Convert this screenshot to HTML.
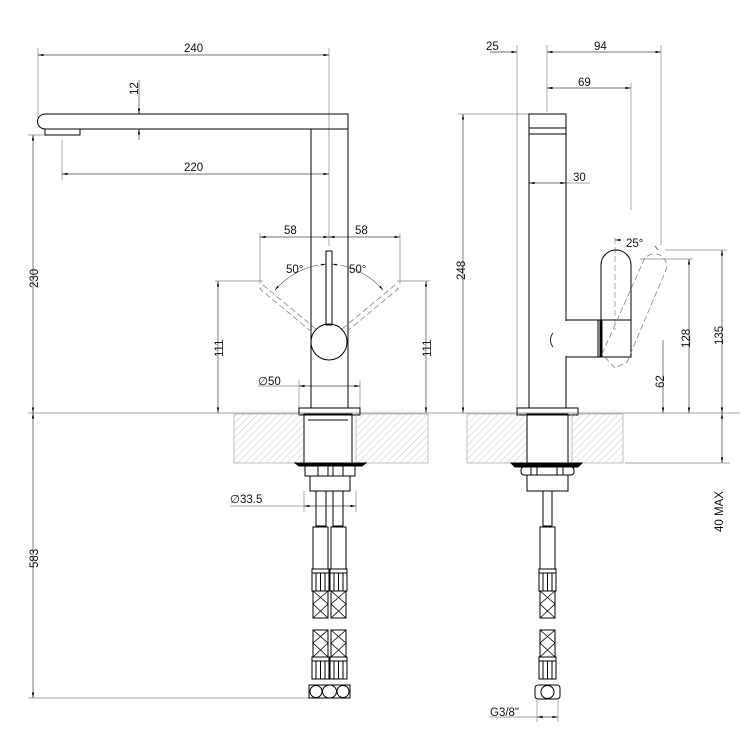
<!DOCTYPE html>
<html><head><meta charset="utf-8"><style>
html,body{margin:0;padding:0;background:#fff}
svg{display:block}
text{font-family:"Liberation Sans",sans-serif;font-size:11.5px;fill:#111}
</style></head><body>
<svg width="750" height="750" viewBox="0 0 750 750" xmlns="http://www.w3.org/2000/svg">
<defs>
<pattern id="h" width="5" height="5" patternUnits="userSpaceOnUse" patternTransform="rotate(45)">
<line x1="0" y1="0" x2="0" y2="5" stroke="#bbb" stroke-width="0.8"/></pattern>
<marker id="a" viewBox="0 0 10 6" refX="10" refY="3" markerWidth="8" markerHeight="5" orient="auto-start-reverse"><path d="M0,1 L10,3 L0,5z" fill="#000"/></marker>
<g id="hoseTop">
<rect x="0" y="0" width="15" height="42" fill="none" stroke="#000"/>
<rect x="-1" y="42" width="17" height="4" fill="none" stroke="#000"/>
<rect x="-1" y="46" width="17" height="18" fill="none" stroke="#000"/>
<line x1="3" y1="46" x2="3" y2="64" stroke="#000"/><line x1="7.5" y1="46" x2="7.5" y2="64" stroke="#000"/><line x1="12" y1="46" x2="12" y2="64" stroke="#000"/>
<rect x="0" y="64" width="15" height="27" fill="none" stroke="#000"/>
<path d="M0,64 L15,77 L0,91 M15,64 L0,77 L15,91" fill="none" stroke="#000" stroke-width="0.8"/>
</g>
<g id="hoseBot">
<rect x="0" y="0" width="15" height="27" fill="none" stroke="#000"/>
<path d="M0,0 L15,13 L0,27 M15,0 L0,13 L15,27" fill="none" stroke="#000" stroke-width="0.8"/>
<rect x="-1" y="27" width="17" height="4" fill="none" stroke="#000"/>
<rect x="-1" y="31" width="17" height="18" fill="none" stroke="#000"/>
<line x1="3" y1="31" x2="3" y2="49" stroke="#000"/><line x1="7.5" y1="31" x2="7.5" y2="49" stroke="#000"/><line x1="12" y1="31" x2="12" y2="49" stroke="#000"/>
</g>
</defs>
<g fill="none" stroke="#000" stroke-width="1">
<!-- LEFT VIEW -->
<g stroke="#888" stroke-width="0.7">
<line x1="38" y1="48" x2="38" y2="118"/><line x1="329" y1="48" x2="329" y2="246"/>
<line x1="62" y1="140" x2="62" y2="180"/>
<line x1="28" y1="135" x2="45" y2="135"/><line x1="28" y1="413" x2="740" y2="413"/>
<line x1="28" y1="698" x2="312" y2="698"/>
<line x1="260" y1="233" x2="260" y2="284"/><line x1="400" y1="233" x2="400" y2="284"/>
<line x1="215" y1="281" x2="263" y2="281"/><line x1="397" y1="281" x2="430" y2="281"/>
<line x1="299" y1="380" x2="299" y2="408"/><line x1="360" y1="380" x2="360" y2="408"/>
<line x1="304" y1="491" x2="304" y2="512"/><line x1="356" y1="491" x2="356" y2="512"/>
<line x1="230" y1="506" x2="304" y2="506"/><line x1="258" y1="386" x2="299" y2="386"/>
</g>
<g stroke="#444" stroke-width="0.7" marker-start="url(#a)" marker-end="url(#a)">
<line x1="38" y1="55" x2="329" y2="55"/>
<line x1="62" y1="174" x2="329" y2="174"/>
<line x1="33" y1="135" x2="33" y2="413"/>
<line x1="33" y1="413" x2="33" y2="698"/>
<line x1="260" y1="237" x2="329" y2="237"/><line x1="329" y1="237" x2="400" y2="237"/>
<line x1="218" y1="281" x2="218" y2="413"/><line x1="426" y1="281" x2="426" y2="413"/>
<line x1="299" y1="386" x2="360" y2="386"/>
<line x1="304" y1="506" x2="356" y2="506"/>
</g>
<g stroke="#444" stroke-width="0.7"><line x1="139" y1="80" x2="139" y2="114" marker-end="url(#a)"/><line x1="139" y1="140" x2="139" y2="129" marker-end="url(#a)"/></g>
<path d="M45,114 L348,114 L348,129 L45,129 A7.5,7.5 0 0 1 45,114z"/>
<rect x="45" y="129" width="35" height="6"/>
<path d="M311,129 L311,408 M348,129 L348,408"/>
<rect x="326" y="251" width="6" height="74"/>
<circle cx="329" cy="342" r="18"/>
<g stroke="#777" stroke-width="0.7" stroke-dasharray="6,3">
<path d="M316,329 L263,285 L260,289 L313,333"/>
<path d="M342,329 L395,285 L398,289 L345,333"/>
</g>
<path d="M275,290 A78,78 0 0 1 318,265" stroke="#444" stroke-width="0.6" marker-start="url(#a)"/>
<path d="M320,265 L326,264" stroke="#444" stroke-width="0.6" marker-end="url(#a)"/>
<path d="M383,290 A78,78 0 0 0 340,265" stroke="#444" stroke-width="0.6" marker-start="url(#a)"/>
<path d="M338,265 L332,264" stroke="#444" stroke-width="0.6" marker-end="url(#a)"/>
<rect x="299" y="408" width="61" height="7"/>
<rect x="234" y="414" width="70" height="49" fill="url(#h)" stroke="#999" stroke-width="0.6"/>
<rect x="356" y="414" width="72" height="49" fill="url(#h)" stroke="#999" stroke-width="0.6"/>
<rect x="304" y="414" width="48" height="49"/><line x1="308" y1="420" x2="348" y2="420"/>
<path d="M295,463 L366,463 L362,466 L299,466z" fill="#000"/>
<rect x="305" y="466" width="50" height="10"/><path d="M318,466v10M328,466v10M333,466v10M343,466v10"/>
<rect x="310" y="476" width="40" height="15"/>
<rect x="316" y="491" width="10" height="35"/><rect x="333" y="491" width="10" height="35"/>
<use href="#hoseTop" x="313" y="527"/><use href="#hoseTop" x="331" y="527"/>
<use href="#hoseBot" x="313" y="630"/><use href="#hoseBot" x="331" y="630"/>
<rect x="309" y="685" width="41" height="13"/>
<ellipse cx="316" cy="691.5" rx="6" ry="6"/><ellipse cx="329.5" cy="691.5" rx="7" ry="6.5"/><ellipse cx="343" cy="691.5" rx="6" ry="6"/>

<!-- RIGHT VIEW -->
<g stroke="#888" stroke-width="0.7">
<line x1="517" y1="45" x2="517" y2="410"/><line x1="547" y1="45" x2="547" y2="112"/>
<line x1="661" y1="45" x2="661" y2="245"/><line x1="631" y1="83" x2="631" y2="210"/>
<line x1="458" y1="114" x2="529" y2="114"/>
<line x1="566" y1="183" x2="590" y2="183"/>
<line x1="665" y1="250" x2="727" y2="250"/><line x1="640" y1="259" x2="693" y2="259"/>
<line x1="625" y1="463" x2="730" y2="463"/>
<line x1="537" y1="700" x2="537" y2="722"/><line x1="558" y1="700" x2="558" y2="722"/>
<line x1="490" y1="717" x2="537" y2="717"/>
<line x1="615" y1="238" x2="615" y2="330" stroke-dasharray="6,3"/>
</g>
<g stroke="#444" stroke-width="0.7">
<line x1="490" y1="52" x2="517" y2="52" marker-end="url(#a)"/>
<line x1="547" y1="52" x2="661" y2="52" marker-start="url(#a)" marker-end="url(#a)"/>
<line x1="547" y1="88" x2="631" y2="88" marker-start="url(#a)" marker-end="url(#a)"/>
<line x1="529" y1="183" x2="566" y2="183" marker-start="url(#a)" marker-end="url(#a)"/>
<line x1="463" y1="114" x2="463" y2="413" marker-start="url(#a)" marker-end="url(#a)"/>
<line x1="663" y1="340" x2="663" y2="413" marker-end="url(#a)"/>
<line x1="689" y1="259" x2="689" y2="413" marker-start="url(#a)" marker-end="url(#a)"/>
<line x1="722" y1="250" x2="722" y2="413" marker-start="url(#a)" marker-end="url(#a)"/>
<line x1="722" y1="413" x2="722" y2="463" marker-start="url(#a)" marker-end="url(#a)"/>
<line x1="537" y1="717" x2="558" y2="717" marker-start="url(#a)" marker-end="url(#a)"/>
<line x1="620" y1="240" x2="615" y2="240" marker-end="url(#a)"/>
<line x1="655" y1="246" x2="658" y2="250"/>
</g>
<rect x="529" y="114" width="37" height="294"/>
<rect x="529" y="128" width="37" height="6"/>
<path d="M566,320 L600,320 L600,357 L566,357" stroke="#000"/>
<line x1="566" y1="321" x2="566" y2="356" stroke="#fff" stroke-width="1.5"/>
<path d="M601,357 L601,265 A15,15 0 0 1 631,265 L631,357z"/>
<line x1="598" y1="320" x2="631" y2="320"/>
<rect x="598" y="320" width="4" height="37"/>
<path d="M553,333 Q548,340 553,347" stroke-width="0.8"/>
<g stroke="#777" stroke-width="0.7" stroke-dasharray="6,3">
<path d="M602,354 L643,262 A12,12 0 0 1 666,270 L627,362 L615,368z"/>
</g>
<rect x="517" y="408" width="61" height="7"/>
<rect x="467" y="414" width="60" height="49" fill="url(#h)" stroke="#999" stroke-width="0.6"/>
<rect x="572" y="414" width="51" height="49" fill="url(#h)" stroke="#999" stroke-width="0.6"/>
<rect x="527" y="414" width="41" height="49"/>
<path d="M511,463 L582,463 L578,467 L515,467z" fill="#000"/>
<rect x="521" y="467" width="53" height="8" rx="3"/><path d="M531,467v8M537,467v8M557,467v8M563,467v8"/>
<rect x="527" y="475" width="41" height="16"/>
<rect x="543" y="491" width="9" height="35"/>
<use href="#hoseTop" x="540" y="527"/>
<use href="#hoseBot" x="540" y="630"/>
<rect x="535" y="685" width="25" height="14" rx="3"/>
<ellipse cx="547.5" cy="692" rx="6.5" ry="6.5"/>
</g>
<g>
<text x="184" y="52">240</text>
<text x="184" y="171">220</text>
<text x="284" y="234">58</text>
<text x="355" y="234">58</text>
<text x="286" y="273">50°</text>
<text x="349" y="273">50°</text>
<text x="258" y="385">∅50</text>
<text x="230" y="503">∅33.5</text>
<text transform="translate(138,95) rotate(-90)">12</text>
<text transform="translate(38,288) rotate(-90)">230</text>
<text transform="translate(38,568) rotate(-90)">583</text>
<text transform="translate(223,357) rotate(-90)">111</text>
<text transform="translate(431,357) rotate(-90)">111</text>
<text x="486" y="50">25</text>
<text x="594" y="50">94</text>
<text x="578" y="86">69</text>
<text x="573" y="181">30</text>
<text x="626" y="247">25°</text>
<text transform="translate(465,280) rotate(-90)">248</text>
<text transform="translate(664,388) rotate(-90)">62</text>
<text transform="translate(690,348) rotate(-90)">128</text>
<text transform="translate(723,345) rotate(-90)">135</text>
<text transform="translate(723,532) rotate(-90)">40 MAX</text>
<text x="490" y="716">G3/8"</text>
</g>
</svg>
</body></html>
